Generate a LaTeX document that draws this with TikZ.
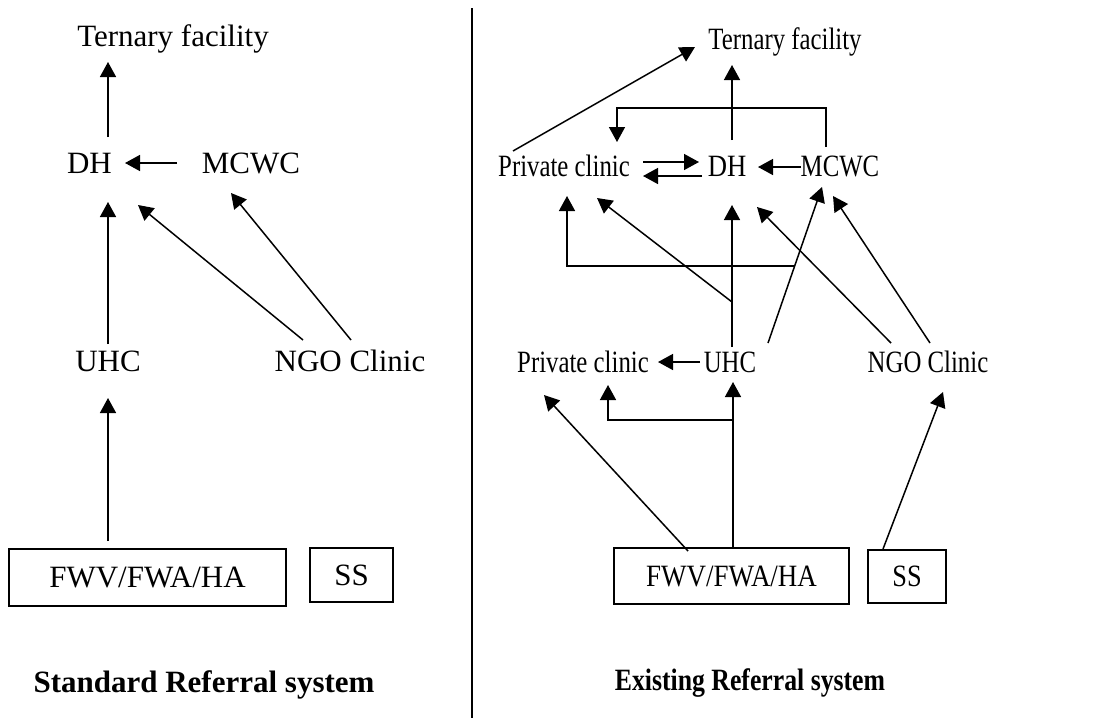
\documentclass[tikz,border=0pt]{standalone}
\usepackage{fontspec}
\setmainfont{Liberation Serif}
\usepackage{graphicx}
\usetikzlibrary{arrows.meta}
\newcommand{\sq}[1]{\scalebox{0.8}[1]{#1}}
\begin{document}
\begin{tikzpicture}[x=1pt,y=-1pt,
  lbl/.style={inner sep=0pt, anchor=base, font=\fontsize{31}{37}\selectfont},
  ttl/.style={inner sep=0pt, anchor=base, font=\fontsize{31}{37}\selectfont\bfseries},
  boxn/.style={draw, line width=1.5pt, inner sep=0pt, font=\fontsize{31}{37}\selectfont},
  arr/.style={line width=1.5pt, -{Triangle[length=15pt,width=16pt]}},
  ln/.style={line width=1.5pt}]
\useasboundingbox (0,0) rectangle (1110,721);
% divider
\draw[line width=1.3pt] (472,8) coordinate (dtop) -- (472,718) coordinate (dbot);
% ---------- left panel ----------
\node[lbl] (terL) at (173,46) {Ternary facility};
\node[lbl] (dhL) at (89.5,173) {DH};
\node[lbl] (mcL) at (251,173) {MCWC};
\node[lbl] (uhcL) at (108,371) {UHC};
\node[lbl] (ngoL) at (350,371) {NGO Clinic};
\node[boxn, minimum width=277pt, minimum height=57pt] (fwvL) at (147.5,577.5) {FWV/FWA/HA};
\node[boxn, minimum width=83pt, minimum height=54pt] (ssL) at (351.5,575) {SS};
\node[ttl] (titleL) at (204,692) {Standard Referral system};
\draw[arr] ([shift={(18.5,-36)}]dhL.base) -- ([shift={(-65,16)}]terL.base);
\draw[arr] ([shift={(-74,-10)}]mcL.base) -- ([shift={(35.5,-10)}]dhL.base);
\draw[arr] ([shift={(0,-27)}]uhcL.base) -- ([shift={(18.5,29)}]dhL.base);
\draw[arr] ([shift={(-47,-31)}]ngoL.base) -- ([shift={(48.5,32)}]dhL.base);
\draw[arr] ([shift={(1,-31)}]ngoL.base) -- ([shift={(-20,20)}]mcL.base);
\draw[arr] ([shift={(-39.5,-36.5)}]fwvL.center) -- ([shift={(0,27)}]uhcL.base);
% ---------- right panel ----------
\node[lbl] (terR) at (785,49) {\sq{Ternary facility}};
\node[lbl] (pcR1) at (564,176) {\sq{Private clinic}};
\node[lbl] (dhR) at (727,176) {\scalebox{0.86}[1]{DH}};
\node[lbl] (mcR) at (840,176) {\sq{MCWC}};
\node[lbl] (pcR2) at (583,372) {\sq{Private clinic}};
\node[lbl] (uhcR) at (730,372) {\sq{UHC}};
\node[lbl] (ngoR) at (928,372) {\sq{NGO Clinic}};
\node[boxn, minimum width=235pt, minimum height=56pt] (fwvR) at (731.5,576) {\scalebox{0.87}[1]{FWV/FWA/HA}};
\node[boxn, minimum width=78pt, minimum height=53pt] (ssR) at (907,576.5) {\scalebox{0.85}[1]{SS}};
\node[ttl] (titleR) at (750,690) {\scalebox{0.83}[1]{Existing Referral system}};
% DH -> Ternary
\draw[arr] ([shift={(5,-36)}]dhR.base) -- ([shift={(-53,16)}]terR.base);
% Private clinic -> Ternary
\draw[arr] ([shift={(-51,-25)}]pcR1.base) -- ([shift={(-90,-2)}]terR.base);
% MCWC -> Private clinic (bracket)
\draw[arr] ([shift={(-14,-29)}]mcR.base) -- ++(0,-39) -| ([shift={(53,-34)}]pcR1.base);
% Private clinic <-> DH
\draw[arr] ([shift={(79,-14)}]pcR1.base) -- ([shift={(-28,-14)}]dhR.base);
\draw[arr] ([shift={(-25,0)}]dhR.base) -- ([shift={(79,0)}]pcR1.base);
% MCWC -> DH
\draw[arr] ([shift={(-39,-9)}]mcR.base) -- ([shift={(31,-9)}]dhR.base);
% UHC -> MCWC with branch to private clinic
\draw[arr] ([shift={(38,-29)}]uhcR.base) -- coordinate[pos=0.494] (brA) ([shift={(-18,11)}]mcR.base);
\draw[arr] (brA) -| ([shift={(3,20)}]pcR1.base);
% UHC -> DH with branch to private clinic
\draw[arr] ([shift={(2,-25)}]uhcR.base) -- coordinate[pos=0.317] (brB) ([shift={(5,29)}]dhR.base);
\draw[arr] (brB) -- ([shift={(33,22)}]pcR1.base);
% NGO -> DH, NGO -> MCWC
\draw[arr] ([shift={(-37,-29)}]ngoR.base) -- ([shift={(30,31)}]dhR.base);
\draw[arr] ([shift={(2,-29)}]ngoR.base) -- ([shift={(-7,20)}]mcR.base);
% UHC -> Private clinic
\draw[arr] ([shift={(-30,-10)}]uhcR.base) -- ([shift={(75,-10)}]pcR2.base);
% FWV -> Private clinic (diagonal)
\draw[arr] ([shift={(-43.5,-25)}]fwvR.center) -- ([shift={(-39,23)}]pcR2.base);
% FWV -> UHC with branch
\draw[arr] ([shift={(1.5,-29)}]fwvR.center) -- coordinate[pos=0.77] (brC) ([shift={(3,10)}]uhcR.base);
\draw[arr] (brC) -| ([shift={(25,13)}]pcR2.base);
% SS -> NGO
\draw[arr] ([shift={(-24,-27.5)}]ssR.center) -- ([shift={(15,20)}]ngoR.base);
\end{tikzpicture}
\end{document}
